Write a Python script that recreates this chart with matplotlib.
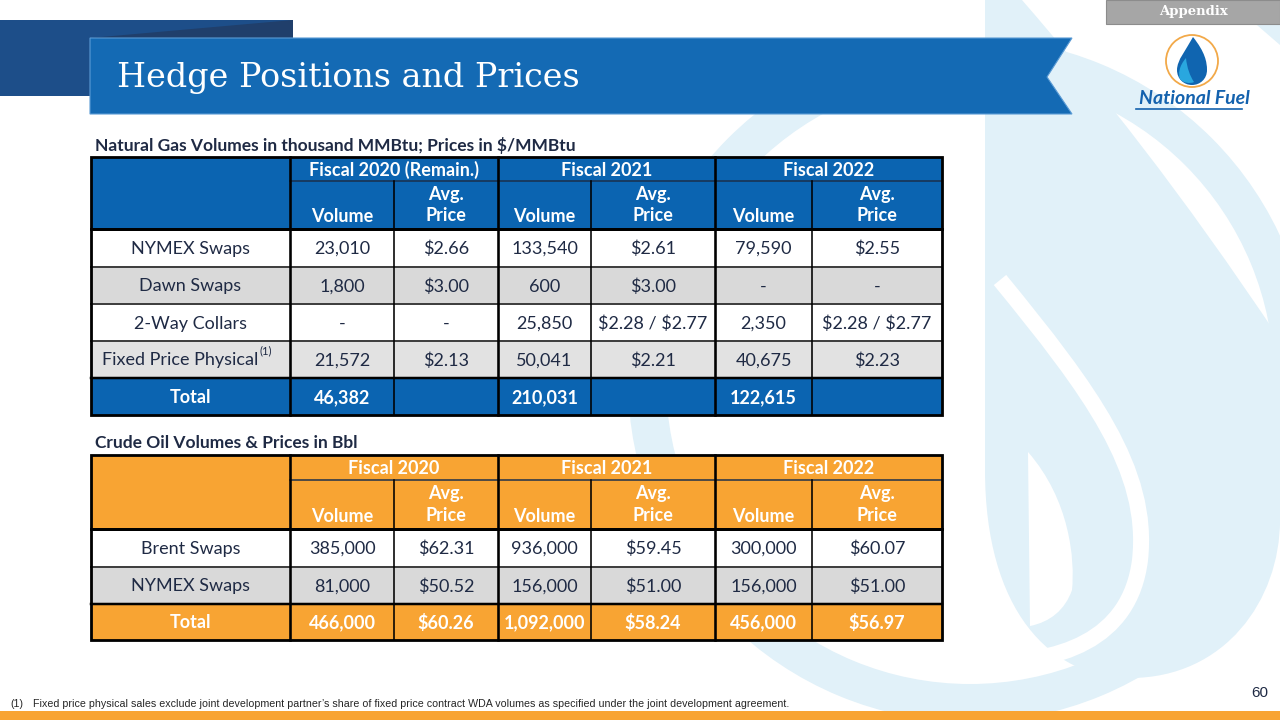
"""Hedge positions slide: two hedge tables drawn on a pixel-space axes."""
import matplotlib
matplotlib.use("Agg")
import matplotlib.pyplot as plt
from matplotlib.patches import Rectangle, Polygon, PathPatch, Circle, Wedge
from matplotlib.path import Path

plt.rcParams["font.family"] = ["Lato", "DejaVu Sans"]
plt.rcParams["text.parse_math"] = False  # dollar signs are plain text here

# --- natural gas table -------------------------------------------------------
gas_years = ["Fiscal 2020 (Remain.)", "Fiscal 2021", "Fiscal 2022"]
gas_rows = ["NYMEX Swaps", "Dawn Swaps", "2-Way Collars", "Fixed Price Physical", "Total"]
gas_vol_2020 = ["23,010", "1,800", "-", "21,572", "46,382"]
gas_price_2020 = ["$2.66", "$3.00", "-", "$2.13", ""]
gas_vol_2021 = ["133,540", "600", "25,850", "50,041", "210,031"]
gas_price_2021 = ["$2.61", "$3.00", "$2.28 / $2.77", "$2.21", ""]
gas_vol_2022 = ["79,590", "-", "2,350", "40,675", "122,615"]
gas_price_2022 = ["$2.55", "-", "$2.28 / $2.77", "$2.23", ""]

# --- crude oil table ---------------------------------------------------------
oil_years = ["Fiscal 2020", "Fiscal 2021", "Fiscal 2022"]
oil_rows = ["Brent Swaps", "NYMEX Swaps", "Total"]
oil_vol_2020 = ["385,000", "81,000", "466,000"]
oil_price_2020 = ["$62.31", "$50.52", "$60.26"]
oil_vol_2021 = ["936,000", "156,000", "1,092,000"]
oil_price_2021 = ["$59.45", "$51.00", "$58.24"]
oil_vol_2022 = ["300,000", "156,000", "456,000"]
oil_price_2022 = ["$60.07", "$51.00", "$56.97"]

sub_heads = ["Volume", "Avg.\nPrice"]
footnote = ("Fixed price physical sales exclude joint development partner\u2019s share of fixed "
            "price contract WDA volumes as specified under the joint development agreement.")

BLUE = "#0b64b1"
BANNER = "#146ab4"
ORANGE = "#f8a433"
NAVY = "#1f2a44"
LIGHT = "#e1f1f9"
PX = 0.72  # points per pixel at dpi 100

COL_X = [91, 290, 394, 498, 591, 715, 812, 942]

fig = plt.figure(figsize=(12.8, 7.2), dpi=100)
ax = fig.add_axes([0, 0, 1, 1])
ax.set_xlim(0, 1280)
ax.set_ylim(720, 0)
ax.axis("off")


def path_patch(verts, codes, color, z=0, **kw):
    ax.add_patch(PathPatch(Path(verts, codes), facecolor=color, edgecolor="none", zorder=z, **kw))


# faded logo in the background
M, L, C, Z = Path.MOVETO, Path.LINETO, Path.CURVE4, Path.CLOSEPOLY
ax.add_patch(Wedge((970, 380), 342, 0, 360, width=38, facecolor=LIGHT, edgecolor="none", zorder=0))
path_patch([(985, 0), (985, 470), (985, 610), (1050, 678), (1130, 678),
            (1225, 678), (1280, 600), (1280, 520), (1280, 340),
            (1180, 190), (1100, 90), (1022, 0), (985, 0)],
           [M, L, C, C, C, C, C, C, L, C, C, C, Z], LIGHT)
path_patch([(1228, 0), (1280, 0), (1280, 45), (1228, 0)], [M, L, L, Z], LIGHT)
ax.add_patch(PathPatch(Path([(1000, 280), (1090, 390), (1150, 470), (1140, 560),
                             (1130, 640), (1060, 665), (975, 662)],
                            [M, C, C, C, C, C, C]),
                       facecolor="none", edgecolor="white", lw=16 * PX, zorder=0.5))
path_patch([(1028, 452), (1070, 500), (1075, 560), (1072, 590), (1065, 610),
            (1050, 622), (1030, 626), (1028, 452)],
           [M, C, C, C, C, C, C, Z], "white", z=0.6)

# title banner
ax.add_patch(Rectangle((0, 20), 293, 76, facecolor="#1d4e89", edgecolor="none", zorder=1))
ax.add_patch(Polygon([(90, 38), (293, 20), (293, 38)], closed=True, facecolor="#203f6b",
                     edgecolor="none", zorder=1))
ax.add_patch(Polygon([(90, 38), (1072, 38), (1047, 77), (1072, 114), (90, 114)], closed=True,
                     facecolor=BANNER, edgecolor="#5b9bd5", lw=0.8, zorder=2))
ax.text(117, 78, "Hedge Positions and Prices", color="white", fontsize=24,
        family=["DejaVu Serif"], va="center", ha="left", zorder=3)

# appendix tab and logo
ax.add_patch(Rectangle((1106, 0), 174, 24, facecolor="#a6a6a6", edgecolor="#8c8c8c", lw=0.8, zorder=2))
ax.text(1193, 12, "Appendix", color="white", fontsize=9.5, fontweight="bold",
        family=["DejaVu Serif"], ha="center", va="center", zorder=3)
ax.add_patch(Circle((1192, 61), 26, facecolor="white", edgecolor="#f2a949", lw=1.3, zorder=2))
path_patch([(1193, 37), (1205, 52), (1207, 62), (1207, 70), (1207, 79), (1200, 85),
            (1192, 85), (1184, 85), (1177, 79), (1177, 70), (1177, 60), (1186, 50), (1193, 37)],
           [M, C, C, C, C, C, C, C, C, C, C, C, Z], "#1065b0", z=3)
path_patch([(1186, 58), (1179, 66), (1178, 74), (1180, 79), (1183, 83), (1190, 84),
            (1194, 82), (1190, 76), (1187, 68), (1186, 58)],
           [M, C, C, C, C, C, C, C, C, Z], "#29a7df", z=4)
ax.text(1194, 99, "National Fuel", color="#1462ae", fontsize=14, fontweight="bold",
        style="italic", ha="center", va="center", zorder=3)
ax.plot([1136, 1242], [109, 109], color="#1462ae", lw=1.2, zorder=3)


def draw_table(y_edges, years, labels, columns, head_color, body_colors, marks):
    x = COL_X
    top, h1, h2 = y_edges[:3]
    body = y_edges[2:]
    ax.add_patch(Rectangle((x[0], top), x[-1] - x[0], h2 - top, facecolor=head_color,
                           edgecolor="none", zorder=2))
    for i, col in enumerate(body_colors):
        ax.add_patch(Rectangle((x[0], body[i]), x[-1] - x[0], body[i + 1] - body[i],
                               facecolor=col, edgecolor="none", zorder=2))
    # header text
    for k, year in enumerate(years):
        x0, xm, x1 = x[1 + 2 * k], x[2 + 2 * k], x[3 + 2 * k]
        ax.text((x0 + x1) / 2, (top + h1) / 2 + 1, year, color="white", fontsize=13,
                fontweight="bold", ha="center", va="center", zorder=4)
        ax.text((x0 + xm) / 2, h2 - 12, sub_heads[0], color="white", fontsize=13,
                fontweight="bold", ha="center", va="center", zorder=4)
        ax.text((xm + x1) / 2, (h1 + h2) / 2, sub_heads[1], color="white", fontsize=13,
                fontweight="bold", ha="center", va="center", linespacing=1.35, zorder=4)
    # body text
    n = len(labels)
    for r in range(n):
        yc = (body[r] + body[r + 1]) / 2 + 1
        is_total = r == n - 1
        color = "white" if is_total else NAVY
        weight = "bold" if is_total else "normal"
        lx = (x[0] + x[1]) / 2
        if r in marks:
            lx -= 10
            ax.text(x[1] - 30, yc - 10, marks[r], color=NAVY, fontsize=8,
                    ha="left", va="center", zorder=4)
        ax.text(lx, yc, labels[r], color=color, fontsize=13, fontweight=weight,
                ha="center", va="center", zorder=4)
        for c, values in enumerate(columns):
            ax.text((x[c + 1] + x[c + 2]) / 2, yc, values[r], color=color, fontsize=13,
                    fontweight=weight, ha="center", va="center", zorder=4)
    # grid lines
    bottom = y_edges[-1]
    for yy in body[1:-2]:
        ax.plot([x[0], x[-1]], [yy, yy], color="#404040", lw=2 * PX, zorder=5)
    ax.plot([x[0], x[-1]], [body[-2], body[-2]], color="black", lw=2.5 * PX, zorder=5)
    ax.plot([x[1], x[-1]], [h1, h1], color="#1a2e4a", lw=1.5 * PX, zorder=5)
    ax.plot([x[0], x[-1]], [h2, h2], color="black", lw=3 * PX, zorder=5)
    for xx in (x[2], x[4], x[6]):
        ax.plot([xx, xx], [h1, bottom], color="black", lw=1.6 * PX, zorder=5)
    for xx in (x[1], x[3], x[5]):
        ax.plot([xx, xx], [top, bottom], color="black", lw=2.6 * PX, zorder=5)
    ax.add_patch(Rectangle((x[0], top), x[-1] - x[0], bottom - top, facecolor="none",
                           edgecolor="black", lw=2.8 * PX, zorder=6))


ax.text(95, 145, "Natural Gas Volumes in thousand MMBtu; Prices in $/MMBtu", color=NAVY,
        fontsize=12.5, fontweight="bold", ha="left", va="center", zorder=3)
draw_table([157, 181, 229, 267, 304, 341, 378, 415], gas_years, gas_rows,
           [gas_vol_2020, gas_price_2020, gas_vol_2021, gas_price_2021, gas_vol_2022, gas_price_2022],
           BLUE, ["white", "#d9d9d9", "white", "#e2e2e2", BLUE], {3: "(1)"})

ax.text(95, 443, "Crude Oil Volumes & Prices in Bbl", color=NAVY,
        fontsize=12.5, fontweight="bold", ha="left", va="center", zorder=3)
draw_table([455, 480, 529, 567, 604, 640], oil_years, oil_rows,
           [oil_vol_2020, oil_price_2020, oil_vol_2021, oil_price_2021, oil_vol_2022, oil_price_2022],
           ORANGE, ["white", "#d9d9d9", ORANGE], {})

# footnote, page number, bottom bar
foot_font = ["Liberation Sans", "DejaVu Sans"]
ax.text(10, 704, "(1)", color="#262626", fontsize=7.7, family=foot_font, ha="left", va="center")
ax.text(33, 704, footnote, color="#262626", fontsize=7.7, family=foot_font, ha="left", va="center")
ax.text(1260, 693, "60", color=NAVY, fontsize=11, family=["Liberation Sans"], ha="center", va="center")
ax.add_patch(Rectangle((0, 711), 1280, 9, facecolor=ORANGE, edgecolor="none", zorder=2))

fig.savefig("out.png", dpi=100)
